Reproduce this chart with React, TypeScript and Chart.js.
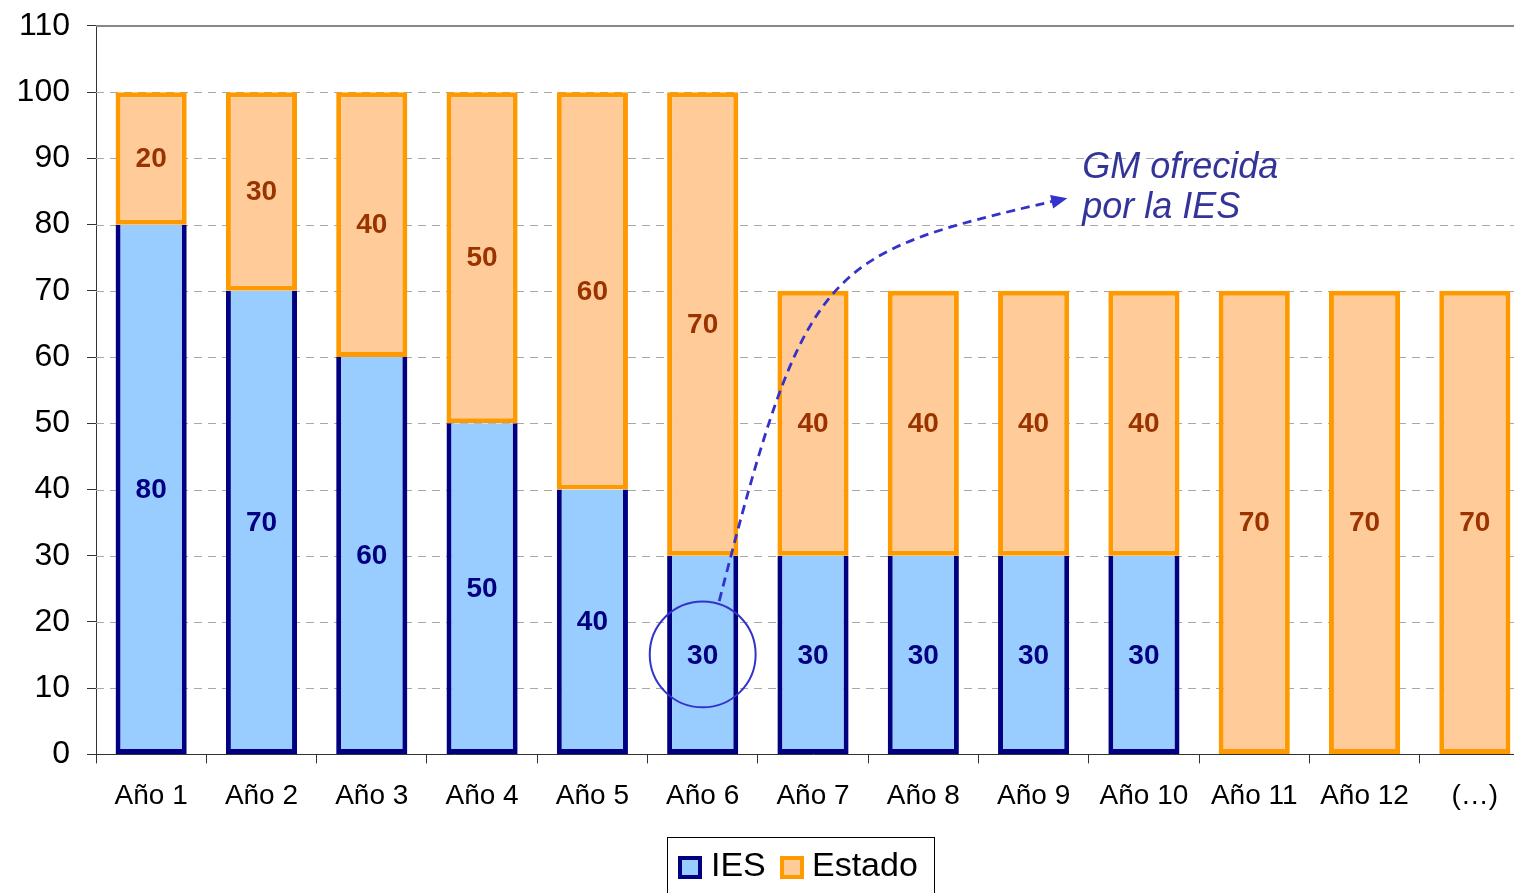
import React, { useEffect, useRef } from 'react';
import { Chart, registerables } from 'chart.js';

Chart.register(...registerables);

// ---- data ----
const categories = ['Año 1', 'Año 2', 'Año 3', 'Año 4', 'Año 5', 'Año 6', 'Año 7', 'Año 8', 'Año 9', 'Año 10', 'Año 11', 'Año 12', '(…)'];
const iesValues: (number | null)[] = [80, 70, 60, 50, 40, 30, 30, 30, 30, 30, null, null, null];
const estadoValues: number[] = [20, 30, 40, 50, 60, 70, 40, 40, 40, 40, 70, 70, 70];
const seriesNames = ['IES', 'Estado'];
const yMin = 0;
const yMax = 110;
const yStep = 10;
const annotationText = ['GM ofrecida', 'por la IES'];

// annotation anchors in data coordinates (category index, value)
const circleCenter = { i: 5, v: 15.1, rCat: 0.48 };
const curvePoints: [number, number][] = [[5.15, 23.15], [5.94, 74.44], [6.09, 75.5], [8.305, 83.98]];
const textAnchors: [number, number][] = [[8.44, 87.0], [8.44, 80.95]];

const FONT = '"Liberation Sans", Arial, Helvetica, sans-serif';

const COLORS = {
  iesFill: '#99CCFF',
  iesBorder: '#000080',
  estFill: '#FFCC99',
  estBorder: '#FF9900',
  iesLabel: '#000080',
  estLabel: '#993300',
  annot: '#3333CC',
  annotText: '#333399',
};

const gridPlugin = {
  id: 'customGrid',
  beforeDatasetsDraw(chart: any) {
    const { ctx, chartArea, scales } = chart;
    const y = scales.y;
    ctx.save();
    y.ticks.forEach((t: any) => {
      if (t.value === yMin) return;
      const py = Math.round(y.getPixelForValue(t.value));
      ctx.beginPath();
      if (t.value === yMax) {
        ctx.setLineDash([]);
        ctx.strokeStyle = '#888888';
        ctx.lineWidth = 2;
        ctx.moveTo(chartArea.left, py);
        ctx.lineTo(chartArea.right, py);
      } else {
        ctx.setLineDash([8, 6]);
        ctx.strokeStyle = '#A8A8A8';
        ctx.lineWidth = 1;
        ctx.moveTo(chartArea.left, py + 0.5);
        ctx.lineTo(chartArea.right, py + 0.5);
      }
      ctx.stroke();
    });
    ctx.restore();
  },
};

const labelPlugin = {
  id: 'valueLabels',
  afterDatasetsDraw(chart: any) {
    const { ctx } = chart;
    ctx.save();
    ctx.font = `bold 28px ${FONT}`;
    ctx.textAlign = 'center';
    ctx.textBaseline = 'middle';
    chart.data.datasets.forEach((ds: any, di: number) => {
      const meta = chart.getDatasetMeta(di);
      ctx.fillStyle = di === 0 ? COLORS.iesLabel : COLORS.estLabel;
      meta.data.forEach((el: any, i: number) => {
        const v = ds.data[i];
        if (v == null) return;
        const p = el.getProps(['x', 'y', 'base'], true);
        ctx.fillText(String(v), p.x, (p.y + p.base) / 2 + 1);
      });
    });
    ctx.restore();
  },
};

const annotationPlugin = {
  id: 'annotation',
  afterDatasetsDraw(chart: any) {
    const { ctx, scales } = chart;
    const { x, y } = scales;
    const px = (i: number) => x.getPixelForValue(i);
    const py = (v: number) => y.getPixelForValue(v);
    ctx.save();
    // circle
    const cx = px(circleCenter.i);
    const cy = py(circleCenter.v);
    const r = px(circleCenter.i + circleCenter.rCat) - cx;
    ctx.strokeStyle = COLORS.annot;
    ctx.lineWidth = 2;
    ctx.setLineDash([]);
    ctx.beginPath();
    ctx.arc(cx, cy, r, 0, Math.PI * 2);
    ctx.stroke();
    // dashed curve
    const pts = curvePoints.map(([i, v]) => [px(i), py(v)]);
    ctx.lineWidth = 2.8;
    ctx.setLineDash([9, 6]);
    ctx.beginPath();
    ctx.moveTo(pts[0][0], pts[0][1]);
    ctx.bezierCurveTo(pts[1][0], pts[1][1], pts[2][0], pts[2][1], pts[3][0] - 10, pts[3][1] + 2);
    ctx.stroke();
    // arrow head
    const tip = pts[3];
    const ang = Math.atan2(-4.5, 20);
    const len = 16;
    const hw = 7;
    ctx.setLineDash([]);
    ctx.fillStyle = COLORS.annot;
    ctx.beginPath();
    ctx.moveTo(tip[0], tip[1]);
    ctx.lineTo(tip[0] - len * Math.cos(ang) - hw * Math.sin(ang), tip[1] - len * Math.sin(ang) + hw * Math.cos(ang));
    ctx.lineTo(tip[0] - len * Math.cos(ang) + hw * Math.sin(ang), tip[1] - len * Math.sin(ang) - hw * Math.cos(ang));
    ctx.closePath();
    ctx.fill();
    // text
    ctx.fillStyle = COLORS.annotText;
    ctx.font = `italic 36px ${FONT}`;
    ctx.textAlign = 'left';
    ctx.textBaseline = 'alphabetic';
    annotationText.forEach((t, k) => {
      ctx.fillText(t, px(textAnchors[k][0]), py(textAnchors[k][1]));
    });
    ctx.restore();
  },
};

const legendPlugin = {
  id: 'boxLegend',
  afterDraw(chart: any) {
    const { ctx } = chart;
    ctx.save();
    ctx.strokeStyle = '#000000';
    ctx.lineWidth = 1;
    ctx.setLineDash([]);
    ctx.strokeRect(667.5, 837.5, 267, 80);
    const items = [
      { name: seriesNames[0], fill: COLORS.iesFill, border: COLORS.iesBorder, mx: 678, tx: 711 },
      { name: seriesNames[1], fill: COLORS.estFill, border: COLORS.estBorder, mx: 780, tx: 812 },
    ];
    ctx.font = `34px ${FONT}`;
    ctx.textBaseline = 'alphabetic';
    ctx.textAlign = 'left';
    items.forEach((it) => {
      ctx.fillStyle = it.border;
      ctx.fillRect(it.mx, 856, 24, 23);
      ctx.fillStyle = it.fill;
      ctx.fillRect(it.mx + 4, 860, 16, 15);
      ctx.fillStyle = '#000000';
      ctx.fillText(it.name, it.tx, 876);
    });
    ctx.restore();
  },
};

export default function App() {
  const canvasRef = useRef<HTMLCanvasElement | null>(null);

  useEffect(() => {
    const canvas = canvasRef.current;
    if (!canvas) return;
    const chart = new Chart(canvas, {
      type: 'bar',
      data: {
        labels: categories,
        datasets: [
          {
            label: seriesNames[0],
            data: iesValues,
            backgroundColor: COLORS.iesFill,
            borderColor: COLORS.iesBorder,
            borderWidth: 5,
            borderSkipped: 'top',
            categoryPercentage: 0.645,
            barPercentage: 1,
          },
          {
            label: seriesNames[1],
            data: estadoValues,
            backgroundColor: COLORS.estFill,
            borderColor: COLORS.estBorder,
            borderWidth: 5,
            borderSkipped: false,
            categoryPercentage: 0.645,
            barPercentage: 1,
          },
        ],
      } as any,
      options: {
        responsive: false,
        maintainAspectRatio: false,
        animation: false,
        devicePixelRatio: 1,
        events: [],
        layout: { padding: { top: 0, bottom: 64, left: 0, right: 0 } },
        plugins: {
          legend: { display: false },
          tooltip: { enabled: false },
        },
        scales: {
          x: {
            stacked: true,
            grid: { display: true, drawOnChartArea: false, tickLength: 9, tickColor: '#333333', offset: true },
            border: { display: true, color: '#333333', width: 1 },
            ticks: {
              color: '#000000',
              font: { size: 28, family: FONT },
              padding: 16,
              maxRotation: 0,
              autoSkip: false,
            },
          },
          y: {
            stacked: true,
            min: yMin,
            max: yMax,
            afterFit: (s: any) => {
              s.width = 96;
            },
            grid: { display: true, drawOnChartArea: false, tickLength: 9, tickColor: '#333333' },
            border: { display: true, color: '#333333', width: 1 },
            ticks: {
              stepSize: yStep,
              color: '#000000',
              font: { size: 32, family: FONT, lineHeight: 0.56 },
              padding: 17,
            },
          },
        },
      } as any,
      plugins: [gridPlugin, labelPlugin, annotationPlugin, legendPlugin],
    });
    return () => chart.destroy();
  }, []);

  return (
    <div
      style={{
        position: 'fixed',
        left: 0,
        top: 0,
        width: 1514,
        height: 893,
        overflow: 'hidden',
        background: '#ffffff',
      }}
    >
      <canvas ref={canvasRef} width={1530} height={893} style={{ display: 'block', width: 1530, height: 893 }} />
    </div>
  );
}
